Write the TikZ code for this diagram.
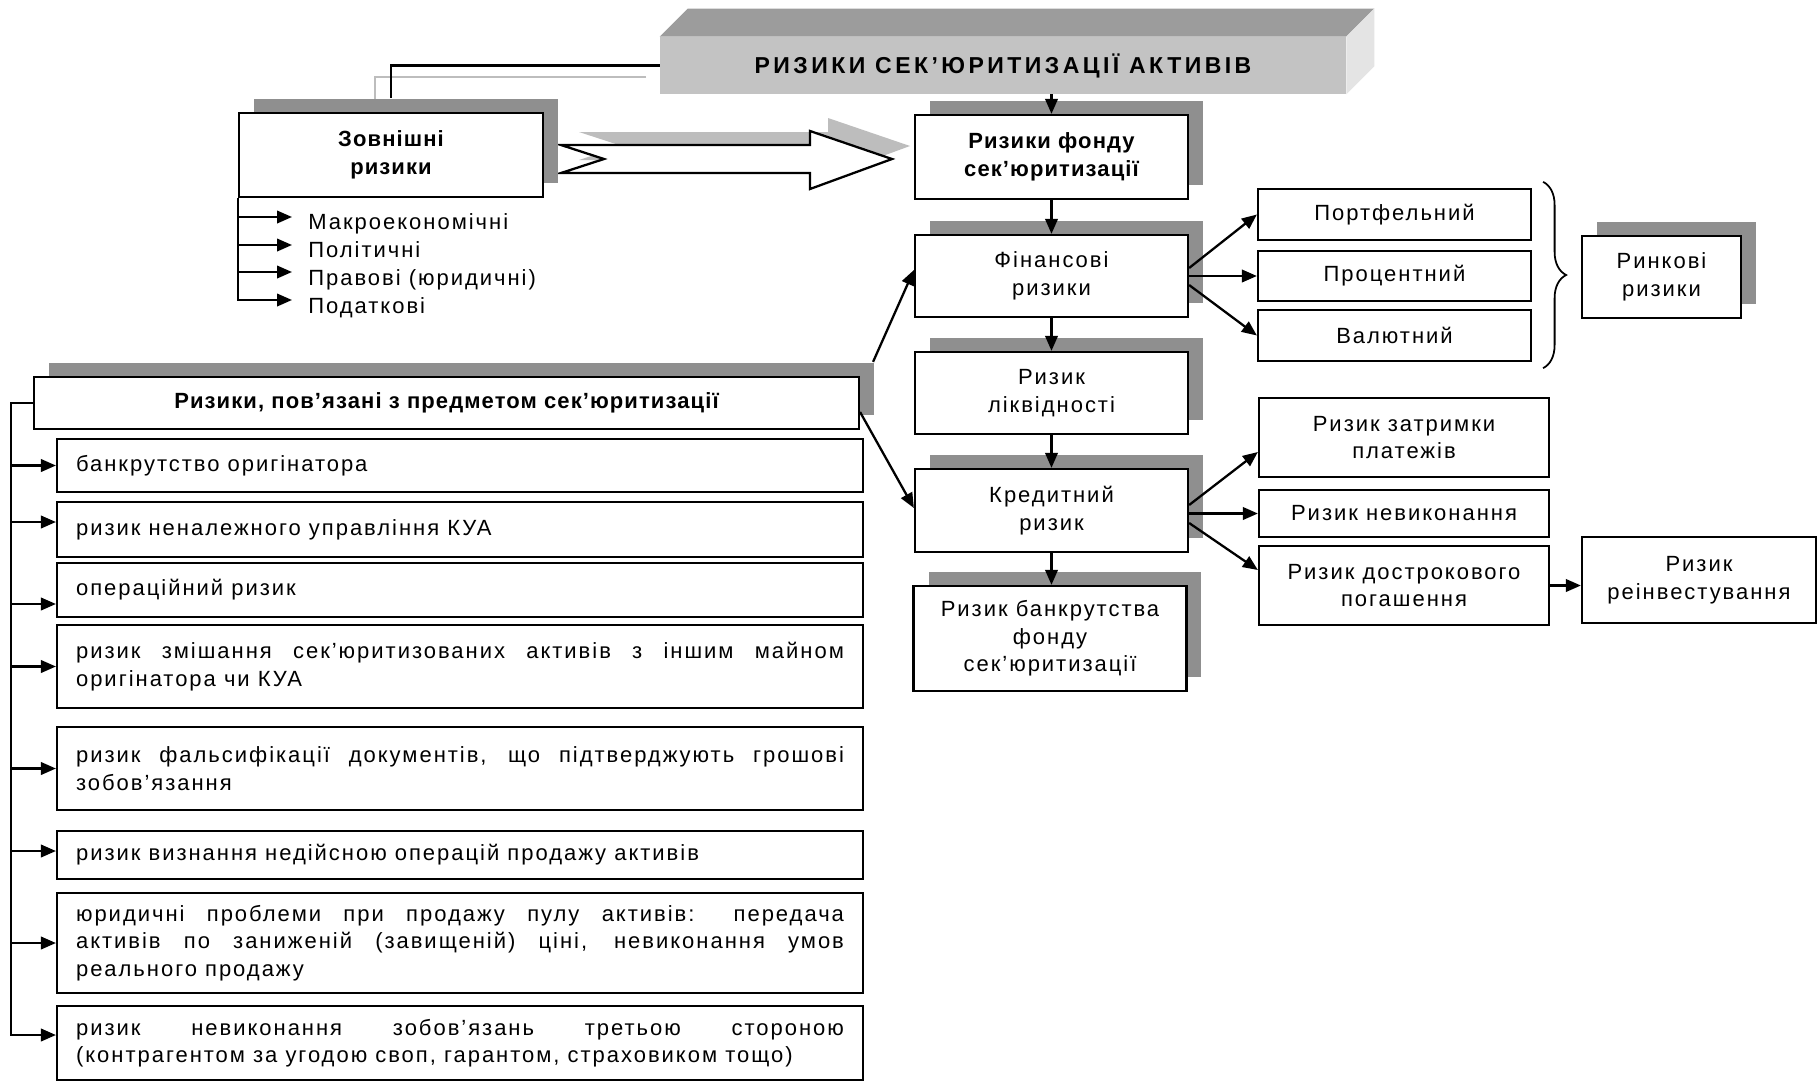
\documentclass[tikz,border=0pt]{standalone}
\usepackage{fontspec}
\setmainfont{Liberation Sans}
\newfontfamily\rfont{Liberation Sans}[LetterSpace=9]
\newfontfamily\hfont{Liberation Sans}[LetterSpace=5]
\newfontfamily\tfont{Liberation Sans}[LetterSpace=15]
\usetikzlibrary{arrows.meta,shadows,decorations.pathreplacing}
\definecolor{shgray}{HTML}{8F8F8F}
\definecolor{arrsh}{HTML}{BDBDBD}
\definecolor{bfront}{HTML}{C3C3C3}
\definecolor{btop}{HTML}{9C9C9C}
\definecolor{bside}{HTML}{E4E4E4}
\hyphenpenalty=10000
\exhyphenpenalty=10000
\tikzset{
  every node/.style={font={\rfont\fontsize{12.52pt}{15.65pt}\selectfont}},
  bx/.style={draw, line width=1.3pt, fill=white, align=center, inner sep=2pt},
  shd/.style={drop shadow={shadow xshift=0.3cm, shadow yshift=0.28cm, fill=shgray, opacity=1}},
  hd/.style={font={\hfont\bfseries\fontsize{12.52pt}{15.65pt}\selectfont}},
  itm/.style={bx, text width=15.36cm, align=justify, inner xsep=0.38cm, minimum width=16.12cm},
  ln/.style={line width=1.3pt},
  arr/.style={line width=1.3pt, -{Triangle[length=0.3cm,width=0.25cm]}},
  lst/.style={anchor=base west, inner sep=0pt}
}
\begin{document}
\begin{tikzpicture}[x=0.02cm,y=-0.02cm]
\fill[white] (0,0) rectangle (1820,1083);
\useasboundingbox (0,0) rectangle (1820,1083);

% banner
\node[fill=bfront, minimum width=13.72cm, minimum height=1.14cm, inner sep=0pt,
      font={\tfont\bfseries\fontsize{13.1pt}{15pt}\selectfont}] (banner) at (1003,65.5) {РИЗИКИ СЕК’ЮРИТИЗАЦІЇ АКТИВІВ};
\fill[btop] (banner.north west) -- ++(28,-28) -- ([shift={(28,-28)}]banner.north east) -- (banner.north east) -- cycle;
\fill[bside] (banner.north east) -- ++(28,-28) -- ([shift={(28,-28)}]banner.south east) -- (banner.south east) -- cycle;

% grey shadow of connector
\draw[line width=1.5pt, arrsh] (646,77) -| (375,99);

% hollow block arrow with shadow
\fill[arrsh] (579,132) -- (828,132) -- (828,118) -- (910,146) -- (828,176) -- (828,160) -- (579,160) -- (622,146) -- cycle;
\draw[ln, fill=white] (561,145) -- (810,145) -- (810,131) -- (892,159) -- (810,189) -- (810,173) -- (561,173) -- (604,159) -- cycle;

% boxes
\node[bx,shd,hd,minimum width=6.08cm,minimum height=1.68cm] (zovn) at (391,155) {Зовнішні\\ризики};
\node[bx,shd,hd,minimum width=5.46cm,minimum height=1.68cm] (fond) at (1051.5,157) {Ризики фонду\\сек’юритизації};
\node[bx,shd,minimum width=5.46cm,minimum height=1.64cm] (fin) at (1051.5,276) {Фінансові\\ризики};
\node[bx,shd,minimum width=5.46cm,minimum height=1.64cm] (likv) at (1051.5,393) {Ризик\\ліквідності};
\node[bx,shd,minimum width=5.46cm,minimum height=1.66cm] (kred) at (1051.5,510.5) {Кредитний\\ризик};
\node[bx,shd,minimum width=5.46cm,minimum height=2.10cm] (bankr) at (1050,638.5) {Ризик банкрутства\\фонду\\сек’юритизації};

\node[bx,minimum width=5.46cm,minimum height=1.02cm] (port) at (1394.5,214.5) {Портфельний};
\node[bx,minimum width=5.46cm,minimum height=1.00cm] (proc) at (1394.5,276) {Процентний};
\node[bx,minimum width=5.46cm,minimum height=1.02cm] (val) at (1394.5,335.5) {Валютний};
\node[bx,shd,minimum width=3.18cm,minimum height=1.64cm] (rynk) at (1661.5,277) {Ринкові\\ризики};

\node[bx,minimum width=5.8cm,minimum height=1.58cm] (zatr) at (1404,437.5) {Ризик затримки\\платежів};
\node[bx,minimum width=5.8cm,minimum height=0.94cm] (nevyk) at (1404,513.5) {Ризик невиконання};
\node[bx,minimum width=5.8cm,minimum height=1.58cm] (dostr) at (1404,585.5) {Ризик дострокового\\погашення};
\node[bx,minimum width=4.68cm,minimum height=1.72cm] (reinv) at (1699,580) {Ризик\\реінвестування};

\node[bx,shd,hd,minimum width=16.5cm,minimum height=1.04cm] (pov) at (446.5,403) {Ризики, пов’язані з предметом сек’юритизації};

\node[itm,minimum height=1.06cm] (i1) at (460,465.5) {банкрутство оригінатора};
\node[itm,minimum height=1.10cm] (i2) at (460,529.5) {ризик неналежного управління КУА};
\node[itm,minimum height=1.08cm] (i3) at (460,590) {операційний ризик};
\node[itm,minimum height=1.66cm] (i4) at (460,666.5) {ризик змішання сек’юритизованих активів з іншим майном\linebreak оригінатора чи КУА};
\node[itm,minimum height=1.66cm] (i5) at (460,768.5) {ризик фальсифікації документів, що підтверджують грошові\linebreak зобов’язання};
\node[itm,minimum height=0.96cm] (i6) at (460,855) {ризик визнання недійсною операцій продажу активів};
\node[itm,minimum height=2.00cm] (i7) at (460,943) {юридичні проблеми при продажу пулу активів: передача\linebreak активів по заниженій (завищеній) ціні, невиконання умов\linebreak реального продажу};
\node[itm,minimum height=1.48cm] (i8) at (460,1043) {ризик невиконання зобов’язань третьою стороною\linebreak (контрагентом за угодою своп, гарантом, страховиком тощо)};

% external list
\node[lst] (m1) at (308,229.5) {Макроекономічні};
\node[lst] (m2) at (308,257.5) {Політичні};
\node[lst] (m3) at (308,285) {Правові (юридичні)};
\node[lst] (m4) at (308,313.5) {Податкові};
\coordinate (b1) at (292,217);
\coordinate (b2) at (292,245);
\coordinate (b3) at (292,272);
\coordinate (b4) at (292,300);
\draw[arr] (zovn.south west) |- (b4);
\foreach \k in {1,2,3} {\draw[arr] (zovn.south west |- b\k) -- (b\k);}

% connectors
\coordinate (zt) at ([yshift=0.28cm]zovn.north);
\draw[ln] (banner.west) -| (zt);
\draw[arr] (banner.south -| fond.north) -- (fond.north);
\draw[arr] (fond.south) -- (fin.north);
\draw[arr] (fin.south) -- (likv.north);
\draw[arr] (likv.south) -- (kred.north);
\draw[arr] (kred.south) -- (kred.south |- bankr.north);

\coordinate (pa) at ([xshift=0.26cm,yshift=0.28cm]pov.north east);
\draw[arr] (pa) -- ([yshift=0.12cm]fin.west);
\draw[arr] ([yshift=-0.18cm]pov.east) -- ([yshift=0.05cm]kred.west);

\draw[arr] ([yshift=0.16cm]fin.east) -- (port.west);
\draw[arr] (fin.east) -- (proc.west);
\draw[arr] ([yshift=-0.18cm]fin.east) -- (val.west);

\draw[arr] ([yshift=0.11cm]kred.east) -- ([yshift=-0.29cm]zatr.west);
\draw[arr] (kred.east |- nevyk.west) -- (nevyk.west);
\draw[arr] ([yshift=-0.25cm]kred.east) -- ([yshift=0.31cm]dostr.west);
\draw[arr] (dostr.east) -- (dostr.east -| reinv.west);

\draw[line width=1pt, decorate, decoration={brace, amplitude=0.46cm}]
  ([xshift=0.22cm,yshift=0.12cm]port.north east) -- ([xshift=0.22cm,yshift=-0.12cm]val.south east);

% left list
\coordinate (vtop) at (11,403);
\coordinate (a1) at (i1.west);
\coordinate (a2) at ([yshift=0.15cm]i2.west);
\coordinate (a3) at ([yshift=-0.28cm]i3.west);
\coordinate (a4) at (i4.west);
\coordinate (a5) at (i5.west);
\coordinate (a6) at ([yshift=0.08cm]i6.west);
\coordinate (a7) at (i7.west);
\coordinate (a8) at ([yshift=0.16cm]i8.west);
\draw[arr] (pov.west) -- (vtop) |- (a8);
\foreach \k in {1,...,7} {\draw[arr] (vtop |- a\k) -- (a\k);}
\end{tikzpicture}
\end{document}
